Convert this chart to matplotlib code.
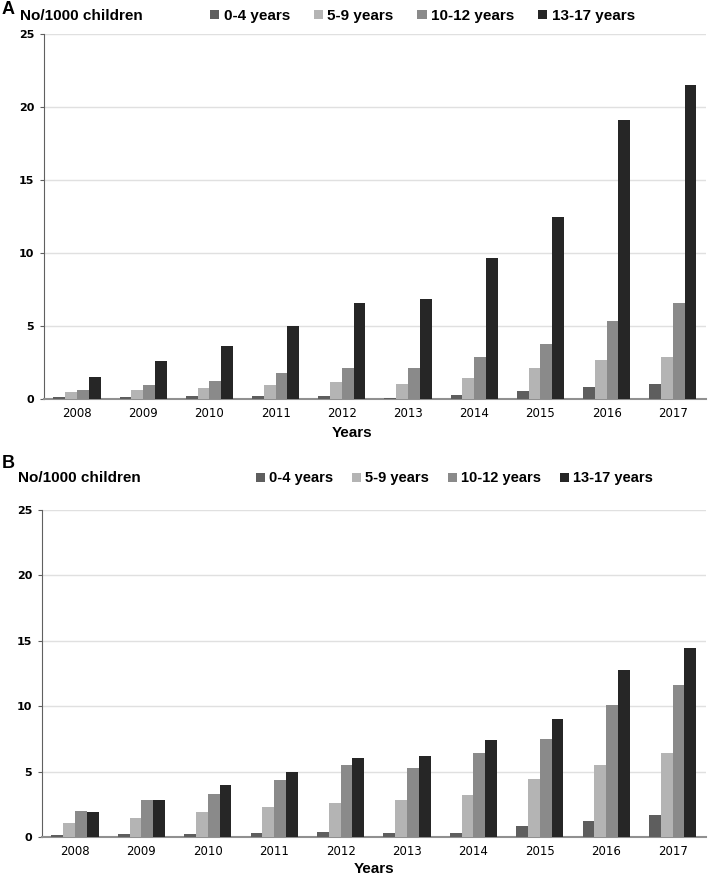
import numpy as np
import matplotlib
matplotlib.use('Agg')
import matplotlib.pyplot as plt

years = ['2008', '2009', '2010', '2011', '2012', '2013', '2014', '2015', '2016', '2017']
groups = ['0-4 years', '5-9 years', '10-12 years', '13-17 years']
colors = ['#5e5e5e', '#b4b4b4', '#8a8a8a', '#262626']

# panel A
a_0_4 = [0.15, 0.15, 0.2, 0.2, 0.2, 0.1, 0.25, 0.55, 0.85, 1.0]
a_5_9 = [0.5, 0.6, 0.75, 0.95, 1.15, 1.0, 1.45, 2.1, 2.65, 2.85]
a_10_12 = [0.6, 0.95, 1.2, 1.8, 2.1, 2.1, 2.9, 3.8, 5.35, 6.6]
a_13_17 = [1.5, 2.6, 3.65, 5.0, 6.55, 6.85, 9.65, 12.45, 19.1, 21.5]

# panel B
b_0_4 = [0.15, 0.2, 0.25, 0.3, 0.4, 0.3, 0.3, 0.85, 1.25, 1.7]
b_5_9 = [1.1, 1.45, 1.9, 2.3, 2.6, 2.85, 3.2, 4.4, 5.5, 6.4]
b_10_12 = [1.95, 2.85, 3.3, 4.35, 5.5, 5.3, 6.45, 7.5, 10.05, 11.65]
b_13_17 = [1.9, 2.85, 4.0, 5.0, 6.0, 6.2, 7.45, 9.05, 12.75, 14.45]

narrow = ['Liberation Sans', 'DejaVu Sans']

fig = plt.figure(figsize=(7.08, 8.76), dpi=100)


def draw_panel(ax, series, xlab_pos):
    x = np.arange(len(years))
    w = 0.178
    for i, vals in enumerate(series):
        ax.bar(x + (i - 1.5) * w, vals, w, color=colors[i], label=groups[i], zorder=3)
    ax.set_xlim(-0.5, len(years) - 0.5)
    ax.set_ylim(0, 25)
    ax.set_yticks([0, 5, 10, 15, 20, 25])
    ax.set_xticks(x)
    ax.set_xticklabels(years, fontsize=8.5, family='DejaVu Sans')
    for lab in ax.get_yticklabels():
        lab.set_fontsize(8)
        lab.set_fontweight('bold')
    ax.grid(axis='y', color='#e0e0e0', lw=1, zorder=0)
    for s in ['top', 'right']:
        ax.spines[s].set_visible(False)
    ax.spines['left'].set_color('#606060')
    ax.spines['bottom'].set_color('#909090')
    ax.spines['bottom'].set_linewidth(1.5)
    ax.tick_params(axis='y', length=3, color='#606060', pad=4)
    ax.tick_params(axis='x', length=0, pad=6)
    ax.set_xlabel('Years', fontsize=11, fontweight='bold', family=narrow, labelpad=4)
    ax.xaxis.set_label_coords(xlab_pos, -0.075)


axA = fig.add_axes([0.062, 0.5445, 0.935, 0.4167])
draw_panel(axA, [a_0_4, a_5_9, a_10_12, a_13_17], 0.465)
axB = fig.add_axes([0.059, 0.0445, 0.938, 0.3735])
draw_panel(axB, [b_0_4, b_5_9, b_10_12, b_13_17], 0.5)

fig.text(0.002, 0.989, 'A', fontsize=13, fontweight='bold', family=narrow, va='center')
fig.text(0.028, 0.982, 'No/1000 children', fontsize=11, fontweight='bold', family=narrow, va='center')
fig.text(0.003, 0.471, 'B', fontsize=13, fontweight='bold', family=narrow, va='center')
fig.text(0.026, 0.454, 'No/1000 children', fontsize=11, fontweight='bold', family=narrow, va='center')

h, l = axA.get_legend_handles_labels()
for anchor, cs, fs in [((0.288, 0.982), 1.55, 11), ((0.353, 0.454), 1.3, 10.5)]:
    fig.legend(h, l, loc='center left', bbox_to_anchor=anchor, ncol=4, frameon=False,
               handlelength=0.6, handleheight=0.6, handletextpad=0.3,
               columnspacing=cs, borderaxespad=0,
               prop={'family': narrow, 'weight': 'bold', 'size': fs})

fig.savefig('out.png', dpi=100)
